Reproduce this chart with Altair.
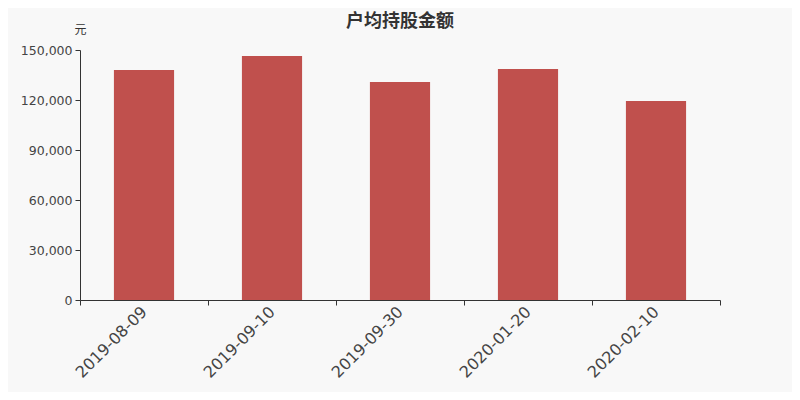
import altair as alt
import pandas as pd

dates = ["2019-08-09", "2019-09-10", "2019-09-30", "2020-01-20", "2020-02-10"]
values = [138000, 146400, 130800, 138600, 119400]
y_ticks = [0, 30000, 60000, 90000, 120000, 150000]

df = pd.DataFrame({"date": dates, "value": values})

axis_color = "#333333"
label_color = "#444444"
font = "DejaVu Sans"

chart = alt.Chart(df).mark_bar(color="#c0504d", width=alt.RelativeBandSize(0.47)).encode(
    x=alt.X(
        "date:N",
        sort=dates,
        title=None,
        scale=alt.Scale(paddingInner=0, paddingOuter=0),
        axis=alt.Axis(
            labelAngle=-45,
            labelAlign="right",
            labelBaseline="middle",
            labelFontSize=16,
            labelColor=label_color,
            labelFont=font,
            labelPadding=4,
            domainColor=axis_color,
            tickColor=axis_color,
            tickSize=5,
            tickBand="extent",
        ),
    ),
    y=alt.Y(
        "value:Q",
        scale=alt.Scale(domain=[0, 150000], nice=False),
        axis=alt.Axis(
            values=y_ticks,
            format=",.0f",
            grid=False,
            labelFontSize=12.5,
            labelColor=label_color,
            labelFont=font,
            labelPadding=3,
            domainColor=axis_color,
            tickColor=axis_color,
            tickSize=5,
            title="元",
            titleAngle=0,
            titleX=0,
            titleY=-14,
            titleAlign="center",
            titleBaseline="bottom",
            titleFontSize=12,
            titleFontWeight="normal",
            titleColor=axis_color,
            titleFont="Noto Sans CJK SC",
        ),
    ),
).properties(
    width=640,
    height=250,
    title=alt.Title(
        "户均持股金额",
        fontSize=18,
        fontWeight="bold",
        color=axis_color,
        font="Noto Sans CJK SC",
        anchor="middle",
        offset=-8,
    ),
    background="#f8f8f8",
    padding={"left": 72, "top": 42, "right": 72, "bottom": 92},
    autosize=alt.AutoSizeParams(type="none"),
).configure_view(stroke=None)

chart.save("out.html", embed_options={"renderer": "svg", "actions": False})
